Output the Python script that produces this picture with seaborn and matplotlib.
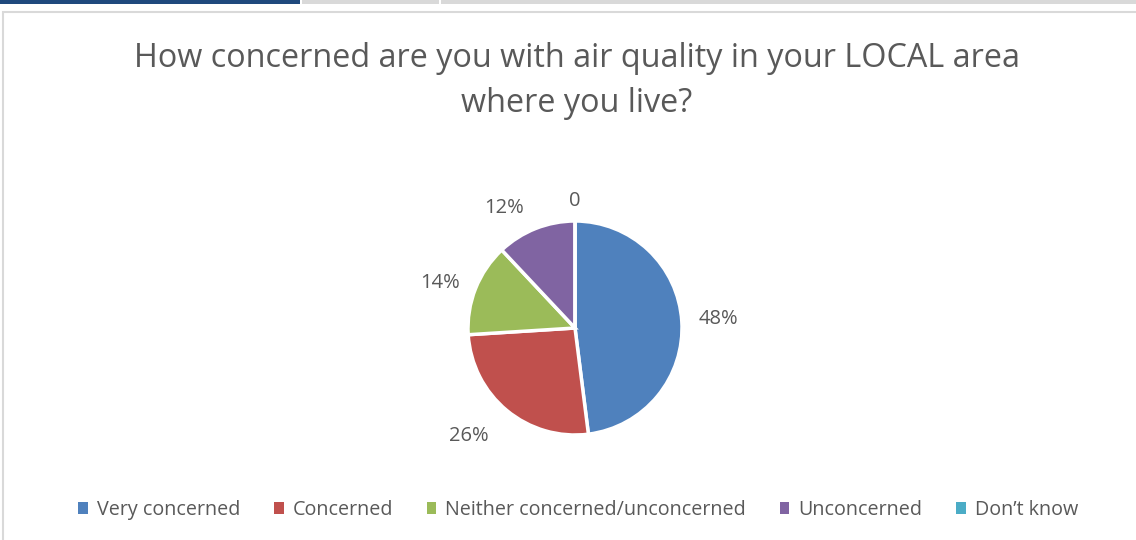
import matplotlib
matplotlib.use("Agg")
import numpy as np
import matplotlib.pyplot as plt
from matplotlib.patches import Rectangle, Patch
import seaborn as sns

# Survey answers
categories = ["Very concerned", "Concerned", "Neither concerned/unconcerned",
              "Unconcerned", "Don\u2019t know"]
shares = [48, 26, 14, 12, 0]
labels = ["48%", "26%", "14%", "12%", "0"]

sns.set_theme(style="white")
plt.rcParams['font.family'] = ['Open Sans', 'DejaVu Sans']

colors = sns.color_palette(["#4F81BD", "#C0504D", "#9BBB59", "#8064A2", "#4BACC6"])
text_gray = "#595959"

W, H = 1136, 540
fig = plt.figure(figsize=(W / 100, H / 100), dpi=100)
fig.patch.set_facecolor("white")

# screenshot strip along the top and the chart border
fig.add_artist(Rectangle((0, 1 - 4 / H), 300 / W, 4 / H, transform=fig.transFigure,
                         facecolor="#1F497D", edgecolor="none"))
fig.add_artist(Rectangle((302 / W, 1 - 4 / H), 137 / W, 4 / H, transform=fig.transFigure,
                         facecolor="#D9D9D9", edgecolor="none"))
fig.add_artist(Rectangle((441 / W, 1 - 4 / H), 700 / W, 4 / H, transform=fig.transFigure,
                         facecolor="#D9D9D9", edgecolor="none"))
fig.add_artist(Rectangle((3.5 / W, -0.05), 1.2, 1 - 11.5 / H + 0.05, transform=fig.transFigure,
                         facecolor="none", edgecolor="#D9D9D9", linewidth=1.5))

# pie axes: centre at (575, 328) px, radius ~107 px
size = 400
cx, cy, r = 575, 328, 107
ax = fig.add_axes([(cx - size / 2) / W, (H - cy - size / 2) / H, size / W, size / H])
lim = size / (2 * r)

wedges, texts = ax.pie(shares, colors=colors, startangle=90, counterclock=False,
                       labels=labels, labeldistance=1.32,
                       wedgeprops=dict(edgecolor="white", linewidth=2.5),
                       textprops=dict(color=text_gray, fontsize=14.5))

# best-fit style label placement (distance, angle shift in degrees)
label_fit = [(1.34, 0), (1.42, -5), (1.33, 3), (1.30, 9), (1.19, 0)]
for w, t, (d, shift) in zip(wedges, texts, label_fit):
    ang = np.deg2rad((w.theta1 + w.theta2) / 2 + shift)
    t.set_position((d * np.cos(ang), d * np.sin(ang)))
    t.set_ha("center")
    t.set_va("center")

ax.set_xlim(-lim, lim)
ax.set_ylim(-lim, lim)
ax.set_aspect("equal")
ax.axis("off")

fig.text(577 / W, 1 - 81 / H, "How concerned are you with air quality in your LOCAL area\nwhere you live?",
         ha="center", va="center", fontsize=23.3, color=text_gray, linespacing=1.5)

handles = [Patch(facecolor=c, edgecolor="none") for c in colors]
fig.legend(handles, categories, loc="center", bbox_to_anchor=(578 / W, 1 - 510 / H),
           ncol=5, frameon=False, fontsize=14.2, labelcolor=text_gray,
           handlelength=0.5, handleheight=0.5, handletextpad=0.45, columnspacing=1.7)

fig.savefig("out.png", dpi=100)
